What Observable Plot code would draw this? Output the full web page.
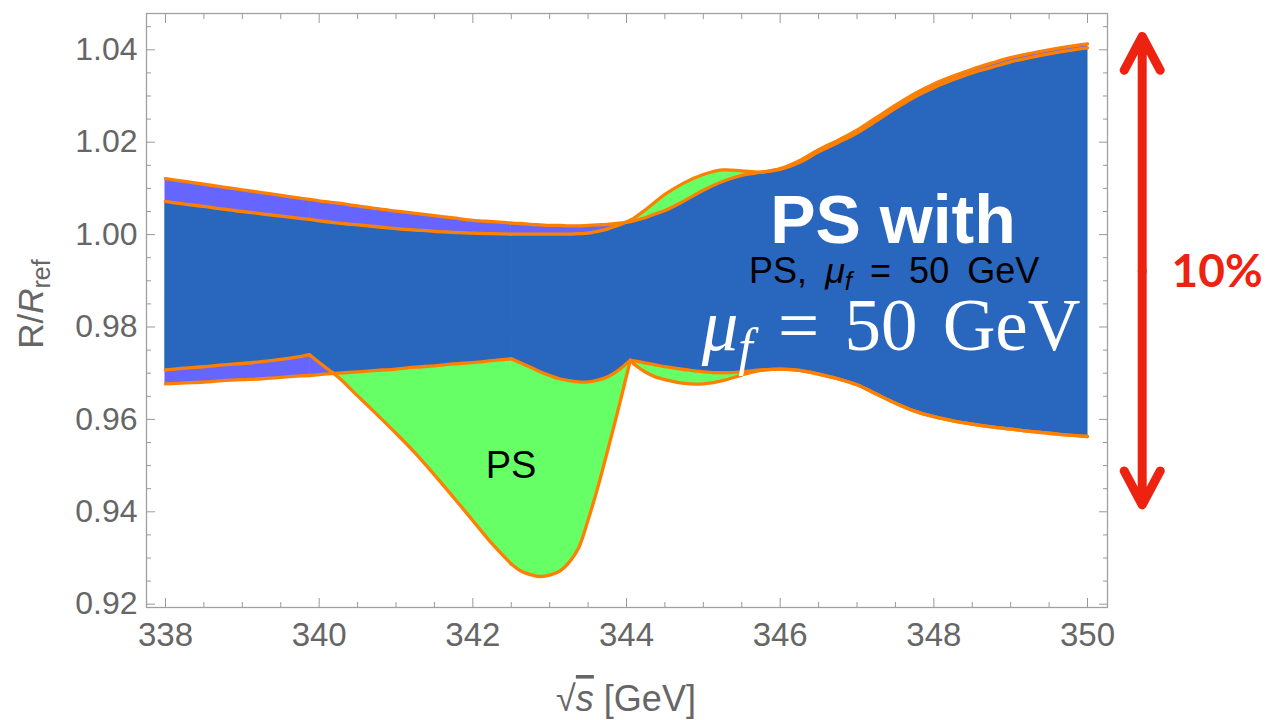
<!DOCTYPE html>
<html>
<head>
<meta charset="utf-8">
<script src="https://cdn.jsdelivr.net/npm/d3@7"></script>
<script src="https://cdn.jsdelivr.net/npm/@observablehq/plot@0.6"></script>
<style>
  html, body { margin: 0; padding: 0; background: #fff; }
</style>
</head>
<body>
<div id="chart"></div>
<script>
// ---- data ----
const sqrtS = [338, 338.25, 338.5, 338.75, 339, 339.25, 339.5, 339.75, 339.875, 340, 340.25, 340.5, 340.75, 341, 341.25, 341.5, 341.75, 342, 342.25, 342.5, 342.625, 342.75, 342.875, 343, 343.125, 343.25, 343.375, 343.5, 343.625, 343.75, 343.875, 344.05, 344.125, 344.25, 344.375, 344.5, 344.75, 345, 345.25, 345.5, 345.75, 346, 346.25, 346.5, 346.75, 347, 347.25, 347.5, 347.75, 348, 348.25, 348.5, 348.75, 349, 349.25, 349.5, 349.75, 350];

// band 1 (purple)
const purpleHi = [1.0121, 1.0115, 1.0109, 1.0103, 1.0097, 1.0091, 1.0085, 1.0079, 1.0076, 1.0073, 1.0068, 1.0062, 1.0056, 1.0051, 1.0046, 1.0041, 1.0036, 1.0031, 1.0028, 1.0025, 1.0024, 1.0022, 1.0021, 1.0020, 1.0020, 1.0019, 1.0019, 1.0020, 1.0021, 1.0022, 1.0024, 1.0028, 1.0031, 1.0037, 1.0045, 1.0052, 1.0073, 1.0096, 1.0115, 1.0128, 1.0135, 1.0143, 1.0160, 1.0184, 1.0204, 1.0226, 1.0253, 1.0280, 1.0305, 1.0326, 1.0343, 1.0358, 1.0371, 1.0383, 1.0392, 1.0400, 1.0407, 1.0413];
const purpleLo = [0.9677, 0.9679, 0.9681, 0.9684, 0.9686, 0.9688, 0.9691, 0.9694, 0.9695, 0.9697, 0.9700, 0.9703, 0.9706, 0.9709, 0.9713, 0.9716, 0.9720, 0.9723, 0.9727, 0.9731, 0.9722, 0.9713, 0.9703, 0.9695, 0.9688, 0.9684, 0.9681, 0.9681, 0.9685, 0.9692, 0.9704, 0.9728, 0.9726, 0.9722, 0.9718, 0.9714, 0.9708, 0.9703, 0.9701, 0.9703, 0.9707, 0.9709, 0.9706, 0.9698, 0.9688, 0.9675, 0.9655, 0.9635, 0.9618, 0.9606, 0.9597, 0.9590, 0.9584, 0.9579, 0.9574, 0.9570, 0.9566, 0.9563];

// band 2 (green, "PS")
const greenHi = [1.0072, 1.0066, 1.0061, 1.0055, 1.0050, 1.0045, 1.0040, 1.0035, 1.0033, 1.0030, 1.0025, 1.0021, 1.0017, 1.0013, 1.0010, 1.0007, 1.0005, 1.0003, 1.0002, 1.0001, 1.0001, 1.0001, 1.0001, 1.0001, 1.0001, 1.0001, 1.0002, 1.0003, 1.0007, 1.0012, 1.0019, 1.0031, 1.0039, 1.0054, 1.0071, 1.0087, 1.0112, 1.0130, 1.0140, 1.0138, 1.0135, 1.0141, 1.0156, 1.0179, 1.0199, 1.0220, 1.0246, 1.0273, 1.0298, 1.0318, 1.0335, 1.0350, 1.0362, 1.0374, 1.0383, 1.0391, 1.0398, 1.0404];
const greenLo = [0.9707, 0.9711, 0.9714, 0.9718, 0.9721, 0.9725, 0.9730, 0.9736, 0.9740, 0.9723, 0.9691, 0.9651, 0.9611, 0.9570, 0.9527, 0.9480, 0.9431, 0.9381, 0.9331, 0.9287, 0.9272, 0.9264, 0.9260, 0.9263, 0.9271, 0.9290, 0.9321, 0.9382, 0.9452, 0.9530, 0.9610, 0.9728, 0.9716, 0.9702, 0.9692, 0.9686, 0.9678, 0.9677, 0.9684, 0.9696, 0.9706, 0.9709, 0.9706, 0.9698, 0.9688, 0.9675, 0.9655, 0.9635, 0.9618, 0.9606, 0.9597, 0.9590, 0.9584, 0.9579, 0.9574, 0.9570, 0.9566, 0.9563];

// ticks
const xMajorTicks = [338, 340, 342, 344, 346, 348, 350];
const xMinorTicks = [338.5, 339, 339.5, 340.5, 341, 341.5, 342.5, 343, 343.5, 344.5, 345, 345.5, 346.5, 347, 347.5, 348.5, 349, 349.5];
const yMajorTicks = [0.92, 0.94, 0.96, 0.98, 1.00, 1.02, 1.04];
const yMinorTicks = [0.925, 0.93, 0.935, 0.945, 0.95, 0.955, 0.965, 0.97, 0.975, 0.985, 0.99, 0.995, 1.005, 1.01, 1.015, 1.025, 1.03, 1.035, 1.045];

// indices of sharp corners (kinks) in the band edges
const kinkIndex = [8, 19, 31];

// red "10%" double arrow (data units)
const arrowX = [350.712, 350.712];
const arrowFrom = [0.9921, 0.9921];
const arrowTo = [1.0429, 0.9415];

// ---- tables for the library ----
const rows = sqrtS.map((x, i) => ({
  x,
  pHi: purpleHi[i], pLo: purpleLo[i],
  gHi: greenHi[i], gLo: greenLo[i],
  bHi: Math.min(purpleHi[i], greenHi[i]),
  bLo: Math.max(purpleLo[i], greenLo[i])
}));
// split into smooth pieces at the kinks (boundary rows shared)
const breaks = [0, ...kinkIndex, sqrtS.length - 1];
const segRows = [];
for (let s = 0; s < breaks.length - 1; s++) {
  for (let i = breaks[s]; i <= breaks[s + 1]; i++) segRows.push({...rows[i], seg: s});
}
const arrows = arrowX.map((x, i) => ({x, y1: arrowFrom[i], y2: arrowTo[i]}));

const ORANGE = "#FF8000";
const TICK = "#999";
const LABEL = "#666";
const CURVE = "catmull-rom";

const tickAxes = [
  Plot.axisX(xMajorTicks, {anchor: "bottom", tickSize: -9, stroke: TICK, fill: "none", label: null}),
  Plot.axisX(xMinorTicks, {anchor: "bottom", tickSize: -5, stroke: TICK, fill: "none", label: null}),
  Plot.axisX(xMajorTicks, {anchor: "top", tickSize: -9, stroke: TICK, fill: "none", label: null}),
  Plot.axisX(xMinorTicks, {anchor: "top", tickSize: -5, stroke: TICK, fill: "none", label: null}),
  Plot.axisY(yMajorTicks, {anchor: "left", tickSize: -9, stroke: TICK, fill: "none", label: null}),
  Plot.axisY(yMinorTicks, {anchor: "left", tickSize: -5, stroke: TICK, fill: "none", label: null}),
  Plot.axisY(yMajorTicks, {anchor: "right", tickSize: -9, stroke: TICK, fill: "none", label: null}),
  Plot.axisY(yMinorTicks, {anchor: "right", tickSize: -5, stroke: TICK, fill: "none", label: null})
];

const bandArea = (y1, y2, color) =>
  Plot.areaY(segRows, {x: "x", y1, y2, z: "seg", fill: color, stroke: color, strokeWidth: 0.6, curve: CURVE});
const edgeLine = (y) =>
  Plot.line(segRows, {x: "x", y, z: "seg", stroke: ORANGE, strokeWidth: 3.3, strokeLinejoin: "round", strokeLinecap: "round", curve: CURVE});

const chart = Plot.plot({
  width: 1275,
  height: 720,
  marginLeft: 146,
  marginRight: 168,
  marginTop: 13,
  marginBottom: 113,
  x: {domain: [337.7527, 350.2603]},
  y: {domain: [0.919286, 1.047857]},
  style: {fontFamily: "'Liberation Sans', Arial, sans-serif", background: "#fff", overflow: "visible"},
  marks: [
    bandArea("pLo", "pHi", "#6666FF"),
    bandArea("gLo", "gHi", "#66FF66"),
    bandArea("bLo", "bHi", "#2966BE"),
    edgeLine("pHi"),
    edgeLine("gHi"),
    edgeLine("pLo"),
    edgeLine("gLo"),
    Plot.frame({stroke: "#a0a0a0", strokeWidth: 1.3}),
    ...tickAxes,
    Plot.axisX(xMajorTicks, {anchor: "bottom", tickSize: 0, tickPadding: 15, fontSize: 33, fill: LABEL, tickFormat: d => String(d), label: null}),
    Plot.axisY(yMajorTicks, {anchor: "left", tickSize: 0, tickPadding: 9, fontSize: 32, fill: LABEL, tickFormat: d3.format(".2f"), label: null}),
    Plot.arrow(arrows, {x1: "x", y1: "y1", x2: "x", y2: "y2", stroke: "#EE2211", strokeWidth: 9, headAngle: 56, headLength: 6.4, strokeLinejoin: "round", clip: false})
  ]
});

document.getElementById("chart").appendChild(chart);

// ---- rich-text labels ----
const svg = d3.select(chart);
const X = chart.scale("x"), Y = chart.scale("y");
const SANS = "'Liberation Sans', Arial, sans-serif";
const SERIF = "'Liberation Serif', 'Times New Roman', serif";

// y axis label: R/R_ref
const yLab = svg.append("text")
  .attr("transform", "translate(43,304) rotate(-90)")
  .attr("text-anchor", "middle").attr("fill", LABEL)
  .attr("font-size", 35).attr("font-family", SANS);
yLab.append("tspan").text("R/");
yLab.append("tspan").attr("font-style", "italic").text("R");
yLab.append("tspan").attr("font-size", 25).attr("dy", 7).text("ref");

// x axis label: √s [GeV]
const xLab = svg.append("text")
  .attr("x", 626).attr("y", 711)
  .attr("text-anchor", "middle").attr("fill", LABEL)
  .attr("font-size", 36).attr("font-family", SANS);
xLab.append("tspan").text("√");
xLab.append("tspan").attr("font-style", "italic").style("text-decoration", "overline").text("s");
xLab.append("tspan").text(" [GeV]");

// "PS with"
svg.append("text")
  .attr("x", X.apply(347.475)).attr("y", Y.apply(0.99807))
  .attr("text-anchor", "middle").attr("fill", "#fff")
  .attr("font-size", 68).attr("font-weight", "bold").attr("font-family", SANS)
  .text("PS with");

// "PS, μf = 50 GeV"
const lab2 = svg.append("text")
  .attr("x", X.apply(347.49)).attr("y", Y.apply(0.98942))
  .attr("text-anchor", "middle").attr("fill", "#000")
  .attr("font-size", 36).attr("font-family", SANS)
  .attr("word-spacing", 8);
lab2.append("tspan").text("PS, ");
lab2.append("tspan").attr("font-style", "italic").text("μ");
lab2.append("tspan").attr("font-style", "italic").attr("font-size", 26).attr("dy", 7).text("f");
lab2.append("tspan").attr("dy", -7).text(" = 50 GeV");

// "μf = 50 GeV" (serif)
const lab3 = svg.append("text")
  .attr("x", X.apply(347.45)).attr("y", Y.apply(0.97491))
  .attr("text-anchor", "middle").attr("fill", "#fff")
  .attr("font-size", 73).attr("font-family", SERIF)
  .attr("word-spacing", 7);
lab3.append("tspan").attr("font-style", "italic").text("μ");
lab3.append("tspan").attr("font-style", "italic").attr("font-size", 52).attr("dy", 15).text("f");
lab3.append("tspan").attr("dy", -15).text(" = 50 GeV");

// "PS" in green region
svg.append("text")
  .attr("x", X.apply(342.503)).attr("y", Y.apply(0.94721))
  .attr("text-anchor", "middle").attr("fill", "#000")
  .attr("font-size", 38).attr("font-family", SANS)
  .text("PS");

// "10%"
svg.append("text")
  .attr("x", X.apply(351.1)).attr("y", Y.apply(0.98855))
  .attr("text-anchor", "start").attr("fill", "#EE2211")
  .attr("font-size", 46).attr("font-weight", "bold").attr("font-family", "Lato, 'Noto Sans', sans-serif")
  .text("10%");
</script>
</body>
</html>
